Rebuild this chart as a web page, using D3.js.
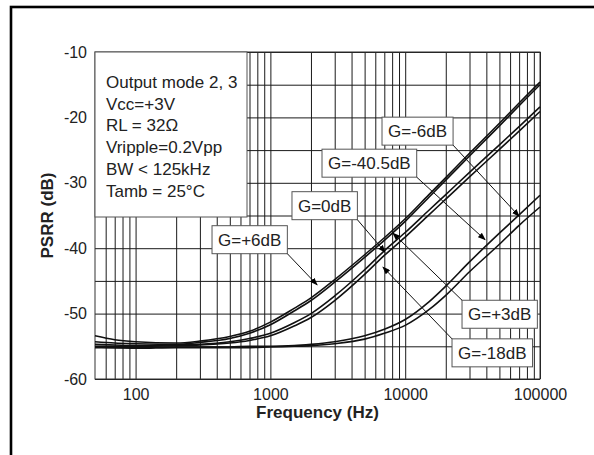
<!DOCTYPE html>
<html>
<head>
<meta charset="utf-8">
<script src="https://cdn.jsdelivr.net/npm/d3@7"></script>
<style>
    body { margin: 0; background: #fff; }
    svg { display: block; font-family: "Liberation Sans", Arial, sans-serif; }
</style>
</head>
<body>
<div id="chart-area"></div>
<script>
// PSRR vs frequency, output mode 2,3
const freqs = [50, 70, 100, 200, 300, 500, 700, 1000, 1500, 2000, 3000, 5000, 7000, 10000, 15000, 20000, 30000, 50000, 70000, 100000];

const gPlus6  = [-53.4, -54.0, -54.3, -54.5, -54.2, -53.5, -52.7, -51.3, -49.2, -47.6, -44.8, -41.0, -38.4, -35.5, -31.8, -29.2, -25.5, -20.9, -17.8, -14.6];
const gPlus3  = [-54.3, -54.5, -54.6, -54.7, -54.4, -53.8, -53.0, -51.7, -49.6, -48.0, -45.2, -41.4, -38.8, -35.9, -32.2, -29.6, -25.9, -21.3, -18.2, -15.0];
const g0      = [-54.7, -54.8, -54.9, -54.8, -54.7, -54.3, -53.8, -53.0, -51.4, -50.0, -47.3, -43.3, -40.4, -37.6, -34.2, -31.8, -28.4, -24.2, -21.4, -18.4];
const gMinus18 = [-55.0, -55.0, -55.0, -54.9, -54.8, -54.5, -54.1, -53.4, -51.9, -50.6, -48.0, -44.0, -41.1, -38.3, -34.9, -32.5, -29.1, -24.9, -22.1, -19.1];
const gMinus6 = [-55.1, -55.2, -55.2, -55.1, -55.1, -55.1, -55.0, -55.0, -54.9, -54.7, -54.3, -53.4, -52.4, -50.9, -48.2, -45.8, -42.1, -37.7, -34.9, -31.9];
const gMinus40 = [-55.2, -55.2, -55.3, -55.2, -55.2, -55.2, -55.2, -55.1, -55.0, -54.9, -54.6, -53.9, -53.0, -51.8, -49.4, -47.2, -43.6, -39.4, -36.5, -33.7];

const xTickLabels = [100, 1000, 10000, 100000];
const yTickLabels = [-60, -50, -40, -30, -20, -10];

const conditions = ["Output mode 2, 3", "Vcc=+3V", "RL = 32\u03A9", "Vripple=0.2Vpp", "BW < 125kHz", "Tamb = 25\u00B0C"];

// callout labels: box anchor (left edge, middle) and arrow tip, in data units
const labelNames = ["G=+6dB", "G=0dB", "G=-40.5dB", "G=-6dB", "G=+3dB", "G=-18dB"];
const boxFreq = [369, 1446, 2415, 6730, 26400, 22250];
const boxDb   = [-38.7, -33.5, -27.0, -22.1, -50.1, -56.0];
const tipFreq = [2218, 7085, 39100, 69900, 8120, 6850];
const tipDb   = [-45.6, -40.6, -38.7, -35.1, -37.7, -42.9];

const series = [gPlus6, gPlus3, g0, gMinus18, gMinus6, gMinus40];

const W = 594, H = 455;
const mLeft = 95, mRight = 540, mTop = 52, mBottom = 379;

let svg = d3.select("#chart-area").append("svg")
    .attr("width", W)
    .attr("height", H);

// outer frame (runs off the right / bottom edge)
svg.append("rect")
    .attr("x", 11).attr("y", 7)
    .attr("width", 650).attr("height", 500)
    .attr("fill", "none")
    .attr("stroke", "#000")
    .attr("stroke-width", 2.6);

const x = d3.scaleLog()
    .domain([50, 100000])
    .range([mLeft, mRight]);

const y = d3.scaleLinear()
    .domain([-60, -10])
    .range([mBottom, mTop]);

// grid frequencies: 1..9 of each decade inside the domain
let gridF = [];
[10, 100, 1000, 10000].forEach(function (d) {
    for (let k = 1; k <= 9; k++) {
        let f = k * d;
        if (f > 50 && f <= 100000) gridF.push(f);
    }
});
gridF.push(100000);

let xAxis = svg.append("g")
    .attr("transform", "translate(0," + mBottom + ")")
    .call(d3.axisBottom(x)
        .tickValues(gridF)
        .tickSize(-(mBottom - mTop))
        .tickPadding(10)
        .tickFormat(function (d) { return xTickLabels.indexOf(d) >= 0 ? d : ""; }));

let yAxis = svg.append("g")
    .attr("transform", "translate(" + mLeft + ",0)")
    .call(d3.axisLeft(y)
        .tickValues(d3.range(-60, -9, 5))
        .tickSize(-(mRight - mLeft))
        .tickPadding(8)
        .tickFormat(function (d) { return yTickLabels.indexOf(d) >= 0 ? d : ""; }));

[xAxis, yAxis].forEach(function (a) {
    a.select(".domain").remove();
    a.selectAll("line").attr("stroke", "#1a1a1a").attr("stroke-width", 1);
    a.selectAll("text")
        .attr("fill", "#222")
        .style("font-size", "16px")
        .style("font-family", "'Liberation Sans', Arial, sans-serif");
});

svg.append("rect")
    .attr("x", mLeft).attr("y", mTop)
    .attr("width", mRight - mLeft).attr("height", mBottom - mTop)
    .attr("fill", "none")
    .attr("stroke", "#333")
    .attr("stroke-width", 1);

// curves
const line = d3.line()
    .x(function (d) { return x(d[0]); })
    .y(function (d) { return y(d[1]); })
    .curve(d3.curveMonotoneX);

svg.selectAll(".curve")
    .data(series)
    .enter()
    .append("path")
    .attr("class", "curve")
    .attr("d", function (s) { return line(freqs.map(function (f, i) { return [f, s[i]]; })); })
    .attr("fill", "none")
    .attr("stroke", "#111")
    .attr("stroke-width", 1.6);

// conditions box
svg.append("rect")
    .attr("x", mLeft).attr("y", mTop)
    .attr("width", 152).attr("height", 165)
    .attr("fill", "#fff")
    .attr("stroke", "#555")
    .attr("stroke-width", 1);

svg.selectAll(".cond")
    .data(conditions)
    .enter()
    .append("text")
    .attr("class", "cond")
    .attr("x", 106)
    .attr("y", function (d, i) { return 88 + i * 21.7; })
    .attr("fill", "#222")
    .style("font-size", "17px")
    .text(function (d) { return d; });

// arrow marker
svg.append("defs").append("marker")
    .attr("id", "arrow")
    .attr("markerUnits", "userSpaceOnUse")
    .attr("markerWidth", 8).attr("markerHeight", 6)
    .attr("refX", 7).attr("refY", 3)
    .attr("orient", "auto")
    .append("path")
    .attr("d", "M0,0 L8,3 L0,6 Z")
    .attr("fill", "#000");

// callouts
labelNames.forEach(function (name, i) {
    let g = svg.append("g");
    let bx = x(boxFreq[i]), by = y(boxDb[i]);
    let t = g.append("text")
        .attr("x", bx + 6)
        .attr("y", by + 6)
        .attr("fill", "#222")
        .style("font-size", "17px")
        .text(name);
    let w = t.node().getComputedTextLength() + 12;
    g.insert("rect", "text")
        .attr("x", bx).attr("y", by - 14)
        .attr("width", w).attr("height", 28)
        .attr("fill", "#fff")
        .attr("stroke", "#555")
        .attr("stroke-width", 1);

    let tx = x(tipFreq[i]), ty = y(tipDb[i]);
    let sx, sy;
    if (tx > bx + w) { sx = bx + w; sy = by + 14; }
    else { sx = bx; sy = by - 14; }
    svg.append("line")
        .attr("x1", sx).attr("y1", sy)
        .attr("x2", tx).attr("y2", ty)
        .attr("stroke", "#111")
        .attr("stroke-width", 1)
        .attr("marker-end", "url(#arrow)");
});

// axis titles
svg.append("text")
    .attr("x", (mLeft + mRight) / 2)
    .attr("y", 418)
    .attr("text-anchor", "middle")
    .attr("fill", "#222")
    .style("font-size", "17px")
    .style("font-weight", "bold")
    .text("Frequency (Hz)");

svg.append("text")
    .attr("transform", "translate(53," + (mTop + mBottom) / 2 + ") rotate(-90)")
    .attr("text-anchor", "middle")
    .attr("fill", "#222")
    .style("font-size", "17px")
    .style("font-weight", "bold")
    .text("PSRR (dB)");
</script>
</body>
</html>
